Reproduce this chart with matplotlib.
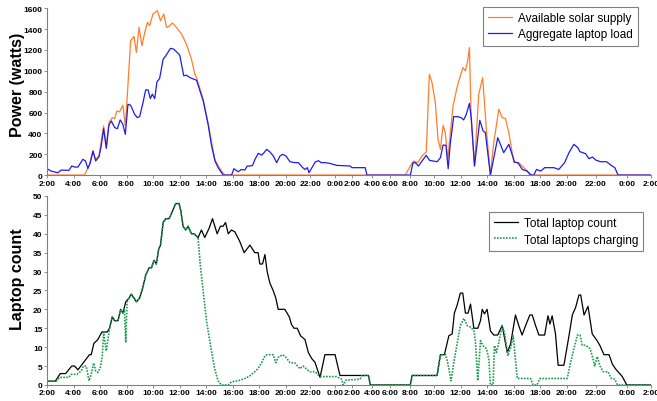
import numpy as np
import matplotlib.pyplot as plt

# x = 10-minute sample index (night gaps make the time axis uneven)
tick_pos = [0, 12, 24, 36, 48, 60, 72, 84, 96, 108, 119, 130, 138, 147, 155,
            164, 175, 187, 199, 211, 223, 235, 248, 262, 273]
tick_labels = ["2:00", "4:00", "6:00", "8:00", "10:00", "12:00", "14:00", "16:00",
               "18:00", "20:00", "22:00", "0:00", "2:00", "4:00", "6:00", "8:00",
               "10:00", "12:00", "14:00", "16:00", "18:00", "20:00", "22:00",
               "0:00", "2:00"]

solar = [(0, 0), (17, 0), (19.2, 103), (20.7, 231), (22.0, 150), (23.5, 183), (25.6, 471),
         (26.8, 279), (28.0, 503), (29.5, 551), (30.6, 541), (31.6, 615), (32.8, 606),
         (34.3, 670), (35.4, 471), (36.2, 727), (37.8, 1288), (39.3, 1330), (40.4, 1176),
         (41.6, 1417), (42.9, 1240), (44.2, 1369), (45.4, 1465), (46.4, 1433), (47.9, 1545),
         (49.9, 1577), (51.3, 1481), (52.8, 1545), (54.0, 1417), (55.2, 1426), (56.7, 1458),
         (58.5, 1417), (60.8, 1353), (63.0, 1256), (65.3, 1112), (66.8, 968), (67.6, 935),
         (70.6, 727), (72.8, 502), (74.4, 311), (75.9, 151), (77.4, 87), (78.9, 39), (80.4, 0),
         (161.9, 0), (164.2, 87), (165.7, 135), (167.5, 119), (169.5, 183), (171.4, 221),
         (172.8, 967), (174.0, 887), (175.5, 694), (176.7, 343), (177.8, 247), (179.0, 477),
         (180.0, 407), (181.1, 151), (182.0, 343), (183.5, 663), (185.3, 839), (186.8, 951),
         (188.0, 1031), (189.1, 999), (190.1, 1095), (190.9, 1223), (191.7, 535), (193.2, 87),
         (195.1, 775), (196.9, 935), (198.6, 423), (200.4, 0), (201.9, 311), (204.2, 631),
         (205.7, 551), (207.2, 541), (208.7, 407), (211.0, 119), (213.2, 119), (215.5, 71),
         (217.8, 22), (219.3, 0), (273, 0)]

load = [(0, 61), (1.9, 38), (4.9, 22), (6.4, 48), (9.9, 45), (11.2, 87), (12.5, 77), (14.0, 77),
        (16.2, 151), (17.4, 135), (18.5, 64), (19.5, 112), (20.8, 231), (22.0, 135), (23.5, 176),
        (24.5, 279), (25.6, 445), (26.8, 256), (28.0, 478), (29.1, 519), (30.6, 455), (31.8, 445),
        (33.1, 529), (34.3, 487), (35.4, 391), (36.6, 679), (37.8, 670), (39.6, 583), (40.8, 551),
        (41.9, 561), (43.4, 695), (44.6, 817), (45.7, 817), (46.7, 734), (47.6, 776), (48.7, 734),
        (49.7, 894), (50.9, 926), (52.5, 1112), (53.7, 1144), (55.8, 1215), (57.3, 1208),
        (58.8, 1176), (60.0, 1151), (61.8, 952), (63.0, 958), (64.5, 936), (66.4, 920),
        (67.6, 909), (70.6, 711), (72.8, 487), (74.4, 279), (75.9, 135), (77.4, 70), (79.6, 0),
        (83.4, 0), (84.5, 61), (86.4, 32), (87.9, 54), (89.4, 48), (90.5, 87), (91.7, 87),
        (92.9, 93), (94.0, 151), (95.5, 208), (97.0, 192), (98.1, 215), (99.3, 247), (100.8, 221),
        (102.3, 183), (103.8, 119), (105.3, 183), (106.5, 199), (108.0, 183), (109.8, 128),
        (112.1, 119), (113.6, 119), (115.6, 71), (116.6, 54), (117.7, 71), (118.4, 22),
        (121.2, 125), (122.7, 138), (123.9, 119), (125.7, 119), (127.9, 112), (131.0, 93),
        (137.0, 87), (137.8, 71), (143.8, 71), (144.6, 0), (164.2, 0), (165.4, 119), (166.4, 119),
        (167.9, 87), (169.5, 135), (171.4, 189), (172.9, 141), (176.3, 128), (177.8, 167),
        (179.0, 288), (180.3, 285), (181.3, 61), (182.3, 311), (183.8, 561), (185.3, 561),
        (187.1, 551), (188.3, 529), (189.5, 583), (190.9, 687), (191.8, 535), (193.2, 87),
        (195.6, 525), (197.1, 423), (198.1, 407), (200.4, 0), (203.7, 359), (206.4, 215),
        (208.7, 295), (211.3, 125), (212.8, 119), (214.8, 54), (217.0, 38), (218.5, 0), (220.0, 0),
        (221.2, 54), (223.1, 38), (224.9, 71), (229.1, 71), (231.3, 54), (233.9, 119), (235.9, 215),
        (238.1, 295), (239.9, 263), (240.8, 225), (243.4, 205), (244.9, 157), (246.5, 173),
        (248.0, 144), (250.2, 128), (252.9, 128), (254.8, 96), (256.6, 71), (258.1, 0), (273, 0)]

total = [(0, 1), (3.8, 1), (6.0, 3), (8.4, 3), (11.2, 5), (12.5, 5), (14.0, 4), (19.2, 8), (20.0, 8),
         (21.2, 11), (23.0, 12), (24.8, 14), (27.2, 14), (28.3, 15), (29.5, 18), (30.6, 17),
         (32.1, 17), (33.3, 20), (34.3, 19), (35.6, 22), (37.1, 23), (38.1, 24), (39.3, 23),
         (40.4, 22), (41.9, 23), (43.4, 26), (44.6, 29), (46.1, 31), (47.2, 31), (48.4, 33),
         (49.4, 32), (50.5, 36), (51.3, 37), (52.5, 43), (53.7, 44), (55.2, 44), (56.7, 46),
         (58.2, 48), (59.7, 48), (60.5, 46), (61.5, 42), (62.7, 41), (63.8, 42), (65.3, 40),
         (66.4, 40), (68.3, 39), (69.8, 41), (71.3, 39), (73.3, 41.5), (74.8, 44), (76.9, 40),
         (78.4, 42), (79.6, 42), (80.7, 43), (81.9, 40), (83.4, 41), (84.9, 40.5), (87.1, 38),
         (89.1, 35), (91.7, 37), (93.9, 35), (95.4, 35), (96.2, 32), (97.4, 32), (98.5, 34.5),
         (99.5, 30), (100.7, 27), (102.2, 25), (103.4, 23), (104.5, 20), (107.5, 20), (109.5, 18),
         (110.5, 16), (111.6, 15), (113.1, 15), (114.6, 13), (116.6, 12), (118.1, 8.6), (119.6, 7),
         (121.1, 6), (121.9, 4.6), (123.4, 2), (125.6, 8), (130.2, 8), (132.4, 2.5), (145.3, 2.5),
         (146.1, 0), (164.2, 0), (165.0, 2.5), (176.3, 2.5), (177.8, 8), (179.6, 8), (180.8, 11),
         (181.6, 13), (183.1, 13.5), (184.1, 19), (185.3, 21), (186.8, 24.3), (187.9, 24.3),
         (189.1, 19), (190.3, 19), (191.4, 21.4), (192.9, 15), (194.7, 15), (195.9, 17), (196.7, 20),
         (197.7, 18.8), (198.9, 20), (200.4, 14.3), (201.9, 13.2), (203.7, 13.2), (205.7, 15.7),
         (208.0, 8.6), (209.5, 10.8), (211.7, 18.5), (213.2, 15.7), (214.7, 13.2), (216.3, 15.7),
         (218.2, 18.5), (219.3, 18.5), (220.8, 15.7), (222.3, 13.2), (224.9, 13.2), (226.4, 18.3),
         (227.3, 16.1), (228.3, 18.3), (229.8, 13.5), (231.0, 5.2), (233.6, 5.2), (235.9, 13),
         (237.4, 18.5), (238.9, 20.5), (240.4, 23.8), (241.2, 23.8), (242.7, 18.5), (244.5, 20.8),
         (246.4, 13.5), (248.4, 11.9), (249.9, 10.4), (251.7, 8), (254.0, 8), (255.5, 5.5),
         (257.0, 4.2), (260.0, 2.2), (262.0, 0), (273, 0)]

charging = [(0, 1), (4.2, 1), (5.7, 2), (9.9, 2), (10.9, 2.8), (13.5, 2.8), (15.5, 3.7), (16.5, 5),
            (17.7, 5), (19.0, 1.1), (20.0, 2.8), (21.1, 5.8), (22.0, 3.7), (23.0, 3.3), (24.1, 4.6),
            (25.0, 7.7), (25.6, 13.7), (26.8, 9), (28.0, 13.9), (28.3, 15), (29.5, 18), (30.6, 17),
            (32.1, 17), (33.3, 20), (34.3, 19), (35.0, 20), (35.6, 11.2), (36.2, 21.9), (37.1, 23),
            (38.1, 24), (39.3, 23), (40.4, 22), (41.9, 23), (43.4, 26), (44.6, 29), (46.1, 31),
            (47.2, 31), (48.4, 33), (49.4, 32), (50.5, 36), (51.3, 37), (52.5, 43), (53.7, 44),
            (55.2, 44), (56.7, 46), (58.2, 48), (59.7, 48), (60.5, 46), (61.5, 42), (62.7, 41),
            (63.8, 42), (65.3, 40), (66.4, 40), (67.5, 39.6), (68.3, 38.7), (69.3, 31.6),
            (70.5, 25.4), (72.0, 17.4), (73.9, 10.4), (75.8, 4.2), (77.3, 1.1), (78.8, 0), (81.9, 0),
            (83.4, 0.8), (86.4, 1.1), (89.4, 1.7), (91.7, 2.4), (93.9, 3.5), (95.4, 4.3), (97.0, 5.9),
            (98.5, 7.7), (99.5, 8), (102.2, 8), (103.4, 5.9), (104.5, 7.3), (106.5, 8), (108.0, 7.3),
            (109.8, 5.9), (112.1, 5.8), (114.3, 4.3), (115.8, 5), (117.3, 4.2), (118.8, 3.5),
            (121.1, 3.5), (122.6, 2.6), (124.1, 2.2), (130.9, 2.2), (133.2, 1.5), (133.8, 0),
            (135.2, 1.3), (141.5, 1.5), (142.3, 2.5), (145.3, 2.5), (146.1, 0), (164.2, 0),
            (165.0, 2.5), (176.3, 2.5), (177.8, 8), (180.1, 8), (181.1, 5.9), (182.6, 1.1),
            (184.1, 6.8), (185.3, 10.8), (186.8, 15.7), (188.4, 17.6), (189.9, 15.7), (191.7, 15.2),
            (192.9, 14.3), (193.6, 11.7), (194.7, 1.1), (195.9, 11.7), (197.1, 10.4), (198.6, 9.6),
            (199.7, 6.8), (200.4, 0), (201.6, 0), (202.2, 10.4), (203.1, 8.6), (204.2, 11.2),
            (205.7, 15.7), (206.7, 13.9), (208.3, 7.7), (209.8, 10.4), (210.7, 13), (212.5, 1.7),
            (218.5, 1.7), (219.7, 0), (221.5, 0), (222.7, 1.7), (235.1, 1.7), (236.6, 5.9),
            (238.1, 9.5), (239.7, 13.2), (240.9, 13.2), (241.9, 10.5), (243.4, 10.5), (245.4, 9.6),
            (246.4, 7.7), (247.5, 5), (248.7, 7.5), (249.9, 5), (251.4, 3.5), (253.5, 3.5),
            (255.0, 1.7), (256.6, 1.5), (257.8, 0), (273, 0)]

plt.rcParams['font.family'] = ['Liberation Sans', 'DejaVu Sans']

fig = plt.figure(figsize=(6.57, 4.02), dpi=100)
ax1 = fig.add_axes([0.0715, 0.562, 0.9195, 0.415])
ax2 = fig.add_axes([0.0715, 0.040, 0.9195, 0.470])


def style(ax, ymax, ystep):
    ax.set_xlim(0, 273)
    ax.set_ylim(0, ymax)
    ax.set_xticks(tick_pos)
    ax.set_xticklabels(tick_labels)
    ax.set_yticks(np.arange(0, ymax + 1, ystep))
    for s in ["top", "right"]:
        ax.spines[s].set_visible(False)
    for s in ["left", "bottom"]:
        ax.spines[s].set_color("#808080")
        ax.spines[s].set_linewidth(0.8)
    ax.tick_params(length=2, width=0.6, color="#808080", pad=1.2, labelsize=6)
    for lab in ax.get_xticklabels() + ax.get_yticklabels():
        lab.set_fontweight("bold")


x, y = np.array(solar).T
ax1.plot(x, y, color="#ff7f2a", lw=0.9, label="Available solar supply")
x, y = np.array(load).T
ax1.plot(x, y, color="#1c1cf0", lw=0.9, label="Aggregate laptop load")
style(ax1, 1600, 200)

x, y = np.array(total).T
ax2.plot(x, y, color="black", lw=0.9, label="Total laptop count")
x, y = np.array(charging).T
ax2.plot(x, y, color="#1f9a50", lw=1.2, ls=(0, (1, 0.8)), label="Total laptops charging")
style(ax2, 50, 5)

for ax, anchor in [(ax1, (0.971, 0.980)), (ax2, (0.979, 0.470))]:
    leg = ax.legend(loc="upper right", bbox_to_anchor=anchor, bbox_transform=fig.transFigure,
                    borderaxespad=0, fancybox=False, framealpha=1, fontsize=8.5,
                    handlelength=2.0, handletextpad=0.5, labelspacing=0.35,
                    borderpad=0.45)
    leg.get_frame().set_edgecolor("#808080")
    leg.get_frame().set_linewidth(0.8)

fig.text(0.026, 0.79, "Power (watts)", rotation=90, ha="center", va="center",
         fontsize=11.5, fontweight="bold")
fig.text(0.026, 0.306, "Laptop count", rotation=90, ha="center", va="center",
         fontsize=11.5, fontweight="bold")

fig.savefig("out.png", dpi=100)
